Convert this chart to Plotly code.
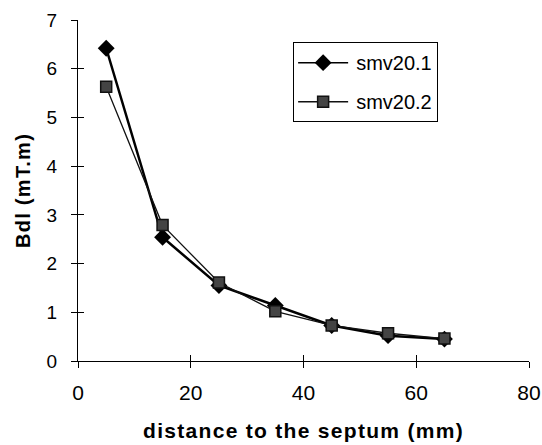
import plotly.graph_objects as go

# distance to the septum (mm)
distance = [5, 15, 25, 35, 45, 55, 65]
# integrated field Bdl (mT.m) for two measurement runs
smv20_1 = [6.42, 2.54, 1.55, 1.14, 0.73, 0.52, 0.45]
smv20_2 = [5.63, 2.79, 1.61, 1.02, 0.73, 0.57, 0.46]

x_ticks = [0, 20, 40, 60, 80]
y_ticks = [0, 1, 2, 3, 4, 5, 6, 7]

FONT = "Liberation Sans, Arial, sans-serif"

fig = go.Figure()
fig.add_trace(go.Scatter(
    x=distance, y=smv20_1, name="smv20.1", mode="lines+markers",
    legendgroup="a",
    line=dict(color="black", width=2.5),
    marker=dict(symbol="diamond", size=13, color="black"),
))
fig.add_trace(go.Scatter(
    x=distance, y=smv20_2, name="smv20.2", mode="lines+markers",
    legendgroup="b",
    line=dict(color="#111111", width=1.3),
    marker=dict(symbol="square", size=11, color="#444444",
                line=dict(color="#111111", width=1.5)),
))

axis_common = dict(showgrid=False, zeroline=False, showline=True,
                   linecolor="black", linewidth=1, ticks="outside",
                   ticklen=6, tickcolor="black", tickwidth=1,
                   automargin=False)

fig.update_layout(
    width=542, height=445,
    margin=dict(l=78, r=13, t=20, b=84),
    paper_bgcolor="white", plot_bgcolor="white",
    font=dict(family=FONT, color="black"),
    xaxis=dict(range=[0, 80], tickvals=x_ticks, tickfont=dict(size=21),
               ticklabelstandoff=7,
               title=dict(text="distance to the septum (mm)",
                          font=dict(size=21, weight="bold"), standoff=20),
               **axis_common),
    yaxis=dict(range=[0, 7], tickvals=y_ticks, tickfont=dict(size=19),
               ticklabelstandoff=10,
               title=dict(text="Bdl (mT.m)",
                          font=dict(size=20, weight="bold"), standoff=10),
               **axis_common),
    xaxis2=dict(overlaying="x", matches="x", range=[0, 80], tickvals=x_ticks,
                showticklabels=False, showgrid=False, zeroline=False,
                ticks="inside", ticklen=6, tickcolor="black", side="bottom",
                anchor="y", automargin=False),
    yaxis2=dict(overlaying="y", matches="y", range=[0, 7], tickvals=y_ticks,
                showticklabels=False, showgrid=False, zeroline=False,
                ticks="inside", ticklen=6, tickcolor="black", side="left",
                anchor="x", automargin=False),
    legend=dict(x=0.477, y=0.935, xanchor="left", yanchor="top",
                bordercolor="black", borderwidth=1, bgcolor="white",
                font=dict(size=20), tracegroupgap=10, itemwidth=52),
    showlegend=True,
)

# invisible trace carrying the inner tick marks
fig.add_trace(go.Scatter(x=[0], y=[0], xaxis="x2", yaxis="y2",
                         mode="markers", marker=dict(opacity=0),
                         showlegend=False, hoverinfo="skip"))

# widen the letter spacing of the axis titles and lengthen the legend samples
post_js = """
var gd = document.getElementById('{plot_id}');
function restyle() {
  gd.querySelectorAll('.xtitle, .ytitle').forEach(function (t) {
    t.style.letterSpacing = '1.3px';
  });
  gd.querySelectorAll('.legendlines path').forEach(function (p) {
    p.setAttribute('d', 'M4,0h50');
    p.style.strokeWidth = '1.5px';
  });
  gd.querySelectorAll('.legendpoints path').forEach(function (p) {
    p.setAttribute('transform', 'translate(29,0)');
  });
}
restyle();
gd.on('plotly_afterplot', restyle);
"""

fig.write_html("out.html", post_script=post_js)
